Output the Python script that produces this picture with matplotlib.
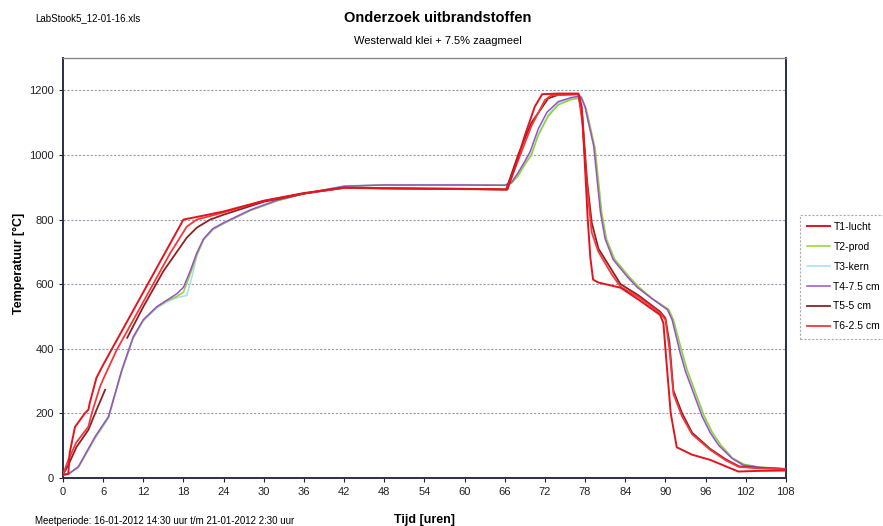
import matplotlib.pyplot as plt
import numpy as np

plt.rcParams['font.family'] = ['Liberation Sans', 'DejaVu Sans']

# series names and colours
names = ['T1-lucht', 'T2-prod', 'T3-kern', 'T4-7.5 cm', 'T5-5 cm', 'T6-2.5 cm']
colors = ['#e3141c', '#8fd62a', '#a8dced', '#9b4fd0', '#8e2222', '#f5363c']

# T1-lucht
t1_h = [0, 0.8, 1.0, 1.8, 3.3, 3.8, 4.0, 5.0, 6, 8, 10, 12, 14, 16, 18, 20, 24, 30, 36,
        42, 48, 54, 60, 66.4, 67.5, 69, 70.5, 71.6, 74, 77.0, 77.5, 77.9, 78.4, 78.8, 79.2,
        80, 83.3, 86, 89.2, 89.7, 90.2, 90.8, 91.7, 94, 96.7, 100.9, 104, 108]
t1_v = [10, 12, 77, 158, 201, 211, 232, 310, 350, 425, 500, 575, 650, 725, 800, 808, 825, 858, 882,
        899, 897, 896, 895, 893, 960, 1060, 1150, 1188, 1190, 1190, 1150, 1000, 800, 680, 614,
        605, 589, 552, 505, 480, 350, 200, 95, 72, 56, 20, 22, 23]

# T2-prod
t2_h = [0, 0.8, 2.3, 4.8, 6.8, 8.8, 10.5, 12, 14, 15.5, 17, 18, 19, 20, 21, 22.4, 24, 28, 32, 36,
        42, 48, 54, 60, 66, 67, 68, 69, 70, 71, 72.5, 74, 76, 77.5, 78.2, 78.7, 79.5, 80.5, 81.2,
        82.4, 84.5, 86, 88, 90.5, 91.2, 92.5, 93.3, 94.5, 95.8, 97, 98.3, 100, 101.8, 104, 108]
t2_v = [10, 12, 33, 125, 188, 333, 435, 488, 528, 548, 562, 575, 630, 690, 738, 770, 788, 828, 858, 880,
        903, 907, 907, 907, 906, 912, 935, 970, 1000, 1060, 1120, 1155, 1172, 1176, 1140, 1095, 1020, 820, 740,
        678, 625, 592, 556, 522, 490, 390, 332, 265, 192, 142, 102, 62, 42, 34, 28]

# T3-kern
t3_h = [0, 0.8, 2.3, 4.8, 6.8, 8.8, 10.5, 12, 14, 15.5, 17, 18.5, 19.3, 20, 21, 22.4, 24, 28, 32, 36,
        42, 48, 54, 60, 66, 67, 68, 69, 70, 71, 72.5, 74, 76, 77.5, 78.1, 78.6, 79.4, 80.4, 81.1,
        82.3, 84.4, 86, 88, 90.4, 91.1, 92.4, 93.2, 94.4, 95.7, 96.9, 98.2, 100, 101.7, 104, 108]
t3_v = [10, 12, 32, 122, 185, 330, 432, 486, 526, 545, 558, 565, 625, 688, 736, 768, 787, 828, 858, 880,
        904, 908, 908, 908, 907, 915, 940, 975, 1005, 1065, 1125, 1160, 1176, 1180, 1140, 1095, 1022, 822, 740,
        678, 624, 590, 555, 521, 489, 389, 331, 264, 191, 141, 101, 61, 41, 33, 28]

# T4-7.5 cm
t4_h = [0, 0.8, 2.3, 4.8, 6.8, 8.8, 10.5, 12, 14, 15.5, 17, 18, 19, 20, 21, 22.4, 24, 28, 32, 36,
        42, 48, 54, 60, 66, 67, 68, 69, 69.8, 71, 72.3, 74, 76, 77.3, 78, 78.5, 79.3, 80.3, 81,
        82.2, 84.3, 85.8, 88, 90.3, 91, 92.2, 93, 94.2, 95.5, 96.7, 98, 100, 101.6, 104, 108]
t4_v = [10, 12, 35, 128, 190, 335, 437, 490, 530, 550, 570, 590, 640, 697, 740, 772, 790, 830, 860, 880,
        903, 907, 907, 907, 906, 915, 945, 980, 1010, 1080, 1132, 1165, 1178, 1182, 1150, 1100, 1027, 822, 740,
        676, 623, 590, 555, 521, 490, 388, 330, 263, 190, 140, 100, 60, 40, 33, 28]

# T5-5 cm (gap in the measurement between ~6 and ~9.5 h)
t5_h = [0, 0.8, 2, 3.8, 5, 6.3, 7.5, 9.6, 12, 15, 18.5, 20, 22, 24, 30, 36, 42, 48, 54, 60, 66.2, 67,
        68, 70, 72.5, 74, 77, 77.6, 78.3, 79, 80, 83.3, 86, 89.2, 90, 90.6, 91.2, 92.5, 94, 96.7, 99,
        101, 104, 108]
t5_v = [10, 40, 95, 149, 210, 273, np.nan, 434, 530, 640, 744, 775, 800, 815, 855, 880, 898, 896, 895, 894, 893, 940,
        1000, 1100, 1175, 1186, 1188, 1120, 920, 790, 710, 600, 565, 515, 495, 420, 270, 200, 140, 90, 58,
        36, 31, 28]

# T6-2.5 cm
t6_h = [0, 0.8, 2, 3.8, 4.3, 5.5, 6, 8, 10, 12, 14, 16, 18.5, 20, 24, 30, 36, 42, 48, 54, 60, 66.3, 67,
        70, 72, 73, 77, 77.6, 78.3, 79, 80, 82, 83.3, 86, 89.2, 90, 90.6, 91.2, 92.5, 94, 96.7, 99,
        101, 104, 108]
t6_v = [10, 56, 110, 159, 200, 280, 305, 395, 470, 545, 620, 695, 778, 800, 822, 858, 881, 898, 897, 896, 895, 893, 930,
        1090, 1170, 1185, 1188, 1100, 900, 760, 700, 630, 592, 560, 511, 490, 400, 260, 190, 135, 87, 55,
        34, 30, 27]

x_ticks = list(range(0, 109, 6))
y_ticks = list(range(0, 1201, 200))

fig = plt.figure(figsize=(8.83, 5.26), dpi=100)
ax = fig.add_axes([0.0713, 0.0913, 0.8187, 0.7984])

series = [(t1_h, t1_v), (t2_h, t2_v), (t3_h, t3_v), (t4_h, t4_v), (t5_h, t5_v), (t6_h, t6_v)]
zorders = [6, 3, 2, 4, 5, 5]
widths = [1.4, 1.1, 1.1, 1.1, 1.3, 1.3]
lines = []
for (h, v), name, col, z, w in zip(series, names, colors, zorders, widths):
    ln, = ax.plot(h, v, color=col, lw=w, label=name, zorder=z)
    lines.append(ln)

ax.set_xlim(0, 108)
ax.set_ylim(0, 1300)
ax.set_xticks(x_ticks)
ax.set_yticks(y_ticks)
ax.tick_params(labelsize=8, length=3, colors='#222222')
for y in y_ticks[1:]:
    ax.axhline(y, color='#9e96aa', lw=0.8, ls=(0, (2, 1.5)), zorder=1)

for s in ['left', 'bottom', 'right']:
    ax.spines[s].set_color('#2a2f45')
    ax.spines[s].set_linewidth(1.4)
ax.spines['top'].set_color('#888888')
ax.spines['top'].set_linewidth(1.0)

ax.set_xlabel('Tijd [uren]', fontsize=9, fontweight='bold', labelpad=12)
fig.text(0.021, 0.5, 'Temperatuur [°C]', rotation=90, ha='center', va='center',
         fontsize=9, fontweight='bold')

fig.text(0.496, 0.965, 'Onderzoek uitbrandstoffen', ha='center', va='center',
         fontsize=10.5, fontweight='bold')
fig.text(0.496, 0.923, 'Westerwald klei + 7.5% zaagmeel', ha='center', va='center', fontsize=8)
fig.text(0.04, 0.965, 'LabStook5_12-01-16.xls', ha='left', va='center', fontsize=7)
fig.text(0.04, 0.01, 'Meetperiode: 16-01-2012 14:30 uur t/m 21-01-2012 2:30 uur',
         ha='left', va='center', fontsize=7)

leg = fig.legend(handles=lines, loc='upper left', bbox_to_anchor=(0.906, 0.592),
                 fontsize=7.5, frameon=True, fancybox=False, handlelength=2.2,
                 labelspacing=0.95, borderpad=0.7, handletextpad=0.3, borderaxespad=0)
leg.get_frame().set_edgecolor('#999999')
leg.get_frame().set_linestyle((0, (2, 1.5)))
leg.get_frame().set_linewidth(0.8)

plt.savefig('out.png', dpi=100)
